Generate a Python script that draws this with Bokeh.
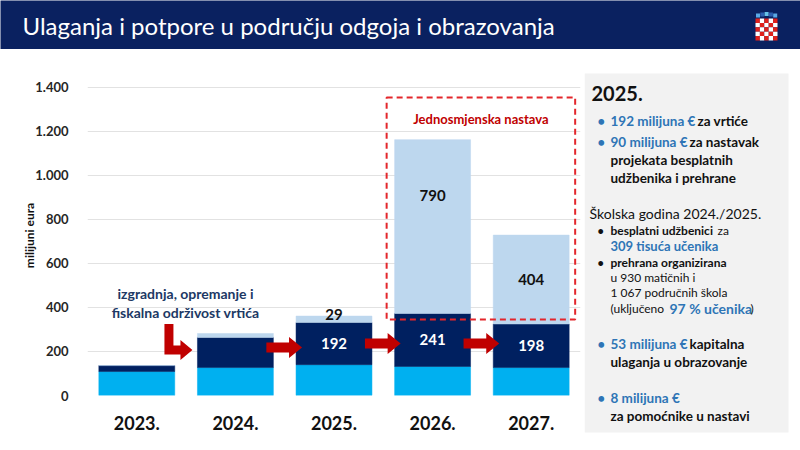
from bokeh.plotting import figure
from bokeh.layouts import column, row
from bokeh.models import ColumnDataSource, FactorRange, Range1d, FixedTicker, BoxAnnotation
from bokeh.core.properties import value
from bokeh.embed import file_html
from bokeh.resources import INLINE

# ---------------- data ----------------
years = ["2023.", "2024.", "2025.", "2026.", "2027."]
base_funds = [109, 127, 140, 132, 127]          # light blue segment
kindergartens = [27, 137, 192, 241, 198]        # dark navy segment
single_shift = [0, 18, 29, 790, 404]            # pale blue segment
kg_labels = ["", "", "192", "241", "198"]
ss_labels = ["", "", "29", "790", "404"]
y_ticks = [0, 200, 400, 600, 800, 1000, 1200, 1400]
y_tick_labels = ["0", "200", "400", "600", "800", "1.000", "1.200", "1.400"]

title_text = "Ulaganja i potpore u području odgoja i obrazovanja"
y_axis_title = "milijuni eura"
box_title = "Jednosmjenska nastava"
note_lines = ["izgradnja, opremanje i", "fiskalna održivost vrtića"]

# ---------------- style ----------------
FONT = "Lato"
NAVY = "#0a2160"
C_LIGHT = "#00b0f0"
C_DARK = "#002060"
C_PALE = "#bdd7ee"
RED = "#c00000"
DASH_RED = "#e3262b"
BLUE_TXT = "#2e75b6"
BLACK = "#111111"

W, H = 800, 450
H_HEAD = 49
H_BODY = H - H_HEAD
W_CHART = 584
W_PANEL = W - W_CHART
ML, MR, MT, MB = 87, 4, 26, 55
Y_END = 1454.5
FRAME_W = W_CHART - ML - MR
FRAME_H = H_BODY - MT - MB
PXX = FRAME_W / len(years)
PXY = FRAME_H / Y_END


def hx(px):
    return px / PXX


def hy(px):
    return px / PXY


def no_align(fig):
    try:
        fig.frame_align = False
    except AttributeError:
        pass


# ---------------- header ----------------
head = figure(width=W, height=H_HEAD, x_range=Range1d(0, W), y_range=Range1d(H_HEAD, 0),
              output_backend="svg", toolbar_location=None, min_border=0,
              background_fill_color=NAVY, border_fill_color=NAVY, outline_line_color=None)
no_align(head)
head.axis.visible = False
head.grid.visible = False
head.text(x=[22], y=[25], text=[title_text], text_color="white", text_font=value(FONT),
          text_font_size="24px", text_baseline="middle", text_align="left")
# coat of arms (decorative)
cx, cy, cols, cell = [], [], [], 4.4
for r in range(5):
    for c in range(5):
        cx.append(755 + cell * c + cell / 2)
        cy.append(18 + cell * r + cell / 2)
        cols.append("#e0201b" if (r + c) % 2 == 0 else "#ffffff")
head.rect(x=cx, y=cy, width=cell, height=cell, fill_color=cols, line_color=None)
head.rect(x=[757.5, 761.8, 766.1, 770.4, 774.7], y=[15, 14, 13.5, 14, 15], width=4, height=4,
          fill_color=["#5aa9e6", "#2b5fb0", "#66c2e8", "#2b5fb0", "#5aa9e6"], line_color=None)

# ---------------- chart ----------------
src = ColumnDataSource(dict(year=years, base=base_funds, kg=kindergartens, ss=single_shift))
p = figure(x_range=FactorRange(*years), y_range=Range1d(0, Y_END), width=W_CHART, height=H_BODY,
           output_backend="svg", toolbar_location=None,
           min_border_left=ML, min_border_right=MR, min_border_top=MT, min_border_bottom=MB,
           outline_line_color=None, background_fill_color="white", border_fill_color="white")
no_align(p)

p.vbar_stack(["base", "kg", "ss"], x="year", width=0.77, source=src,
             fill_color=[C_LIGHT, C_DARK, C_PALE], line_color=[C_LIGHT, C_DARK, C_PALE], line_width=0.5)

p.xgrid.visible = False
p.ygrid.grid_line_color = "#e2e2e2"
p.ygrid.grid_line_width = 1
p.yaxis.ticker = FixedTicker(ticks=y_ticks)
p.yaxis.major_label_overrides = {t: l for t, l in zip(y_ticks, y_tick_labels)}
p.axis.axis_line_color = None
p.axis.major_tick_line_color = None
p.axis.minor_tick_line_color = None
p.yaxis.major_label_text_font = FONT
p.yaxis.major_label_text_font_style = "bold"
p.yaxis.major_label_text_font_size = "13px"
p.yaxis.major_label_text_color = "#262626"
p.yaxis.major_label_standoff = 13
p.yaxis.axis_label = y_axis_title
p.yaxis.axis_label_text_font = FONT
p.yaxis.axis_label_text_font_style = "bold"
p.yaxis.axis_label_text_font_size = "12px"
p.yaxis.axis_label_text_color = BLACK
p.yaxis.axis_label_standoff = -5
p.xaxis.major_label_text_font = FONT
p.xaxis.major_label_text_font_style = "bold"
p.xaxis.major_label_text_font_size = "18px"
p.xaxis.major_label_text_color = BLACK
p.xaxis.major_label_standoff = 14

# segment value labels
kg_y = [b + k / 2 for b, k in zip(base_funds, kindergartens)]
ss_anchor = [0, 0, 1.25, 0.68, 0.5]   # relative label position within pale segment
ss_y = [b + k + s * a for b, k, s, a in zip(base_funds, kindergartens, single_shift, ss_anchor)]
p.text(x=years, y=kg_y, text=kg_labels, text_color="white", text_font=value(FONT),
       text_font_style="bold", text_font_size="15px", text_align="center", text_baseline="middle")
p.text(x=years, y=ss_y, text=ss_labels, text_color=BLACK, text_font=value(FONT),
       text_font_style="bold", text_font_size="15px", text_align="center", text_baseline="middle")

# dashed box around single-shift years (numeric = synthetic categorical coordinates)
half = 0.77 / 2
bx0 = years.index("2026.") + 0.5 - half - hx(8)
bx1 = years.index("2027.") + 0.5 + half + hx(6)
box = BoxAnnotation(left=bx0, right=bx1, bottom=345, top=1355,
                    fill_alpha=0, line_alpha=1, line_color=DASH_RED, line_width=2, line_dash="6 4")
p.add_layout(box)
p.text(x=[(bx0 + bx1) / 2], y=[1259], text=[box_title], text_color=RED,
       text_font=value(FONT), text_font_style="bold", text_font_size="13px",
       text_align="center", text_baseline="middle")

# arrows between bars
arrow_y = [218, 236, 236]
xs_list, ys_list = [], []
for i, ay in zip(range(1, 4), arrow_y):
    x0 = i + 0.5 + half - hx(7)
    x1 = i + 1.5 - half + hx(6)
    xh = x1 - hx(13)
    xs_list.append([x0, xh, xh, x1, xh, xh, x0])
    ys_list.append([ay + hy(5), ay + hy(5), ay + hy(10.5), ay, ay - hy(10.5), ay - hy(5), ay - hy(5)])
# bent arrow from the note down to 2024
tip = 1 + 0.5 - half - hx(5)
ly = 207
sl, sr = tip - hx(28), tip - hx(19)
xh = tip - hx(12)
xs_list.append([sl, sr, sr, xh, xh, tip, xh, xh, sl])
ys_list.append([ly + hy(26), ly + hy(26), ly + hy(4.5), ly + hy(4.5), ly + hy(10), ly,
                ly - hy(10), ly - hy(4.5), ly - hy(4.5)])
p.patches(xs=xs_list, ys=ys_list, fill_color=RED, line_color=None)

# note text
p.text(x=[0.994, 0.994], y=[464, 377], text=note_lines, text_color="#203864",
       text_font=value(FONT), text_font_style="bold", text_font_size="14px",
       text_align="center", text_baseline="middle")

# ---------------- side panel (page pixel coordinates) ----------------
side = figure(width=W_PANEL, height=H_BODY, x_range=Range1d(W_CHART, W), y_range=Range1d(H, H_HEAD),
              output_backend="svg", toolbar_location=None, min_border=0,
              outline_line_color=None, background_fill_color="white", border_fill_color="white")
no_align(side)
side.axis.visible = False
side.grid.visible = False
side.quad(left=[584], right=[788], top=[73], bottom=[432], fill_color="#f2f2f2", line_color=None)

items = [
    # x, y, text, color, size, style
    (591, 93, "2025.", BLACK, "20px", "bold"),
    (597, 120, "•", BLUE_TXT, "13px", "bold"),
    (610, 120, "192 milijuna €", BLUE_TXT, "13.5px", "bold"),
    (697, 120, "za vrtiće", BLACK, "13.5px", "bold"),
    (597, 141, "•", BLUE_TXT, "13px", "bold"),
    (610, 141, "90 milijuna €", BLUE_TXT, "13.5px", "bold"),
    (689, 141, "za nastavak", BLACK, "13.5px", "bold"),
    (610, 159, "projekata besplatnih", BLACK, "13.5px", "bold"),
    (610, 177, "udžbenika i prehrane", BLACK, "13.5px", "bold"),
    (589, 213, "Školska godina 2024./2025.", BLACK, "14px", "normal"),
    (597, 230, "•", BLACK, "11px", "bold"),
    (610, 230, "besplatni udžbenici", BLACK, "12px", "bold"),
    (717, 230, "za", BLACK, "12px", "normal"),
    (610, 245, "309 tisuća učenika", BLUE_TXT, "13px", "bold"),
    (597, 262, "•", BLACK, "11px", "bold"),
    (610, 262, "prehrana organizirana", BLACK, "12px", "bold"),
    (610, 277, "u 930 matičnih i", BLACK, "12px", "normal"),
    (610, 292, "1 067 područnih škola", BLACK, "12px", "normal"),
    (610, 308, "(uključeno", BLACK, "12px", "normal"),
    (669, 308, "97 % učenika", BLUE_TXT, "14px", "bold"),
    (750, 308, ")", BLACK, "12px", "normal"),
    (597, 343, "•", BLUE_TXT, "13px", "bold"),
    (610, 343, "53 milijuna €", BLUE_TXT, "13.5px", "bold"),
    (689, 343, "kapitalna", BLACK, "13.5px", "bold"),
    (610, 361, "ulaganja u obrazovanje", BLACK, "13.5px", "bold"),
    (597, 397, "•", BLUE_TXT, "13px", "bold"),
    (610, 397, "8 milijuna €", BLUE_TXT, "13.5px", "bold"),
    (610, 415, "za pomoćnike u nastavi", BLACK, "13.5px", "bold"),
]
for x, y, t, c, s, st in items:
    side.text(x=[x], y=[y], text=[t], text_color=c, text_font=value(FONT), text_font_size=s,
              text_font_style=st, text_align="left", text_baseline="middle")

layout = column(head, row(p, side))
open("out.html", "w").write(file_html(layout, INLINE))
